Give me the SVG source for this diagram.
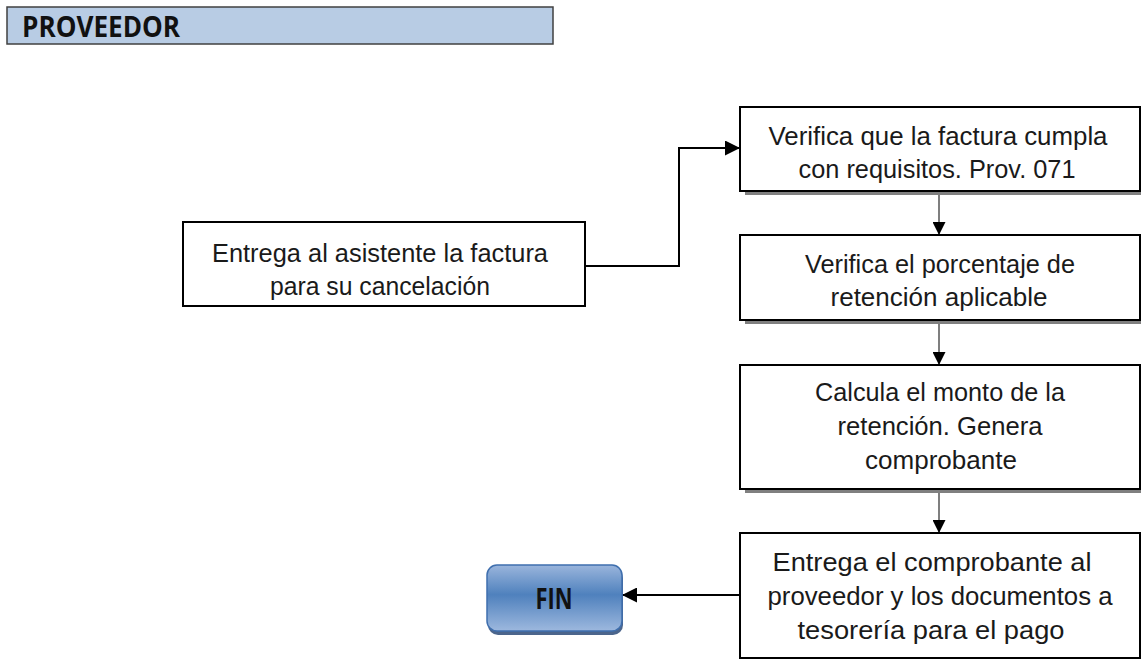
<svg xmlns="http://www.w3.org/2000/svg" width="1141" height="660" viewBox="0 0 1141 660">
<style>
.box{fill:#fff;stroke:#000;stroke-width:2}
.shadow{fill:#808080}
.t{font-family:"Liberation Sans",Arial,sans-serif;font-size:26.5px;fill:#1a1a1a;text-anchor:middle}
.conn{fill:none;stroke:#000;stroke-width:2}
.vconn{fill:none;stroke:#555;stroke-width:1.5}
</style>
<defs>
<linearGradient id="finGrad" x1="0" y1="0" x2="0" y2="1">
<stop offset="0" stop-color="#9ab5dc"/>
<stop offset="0.45" stop-color="#4f81bd"/>
<stop offset="1" stop-color="#9db8de"/>
</linearGradient>
<marker id="ah" markerWidth="15" markerHeight="15" refX="15" refY="7.5" orient="auto" markerUnits="userSpaceOnUse">
<path d="M0,0 L15,7.5 L0,15 Z" fill="#000"/>
</marker>
<marker id="ahs" markerWidth="13" markerHeight="13" refX="13" refY="6.5" orient="auto" markerUnits="userSpaceOnUse">
<path d="M0,0 L13,6.5 L0,13 Z" fill="#000"/>
</marker>
</defs>
<rect width="1141" height="660" fill="#fff"/>

<g id="header">
<rect x="7" y="7" width="546" height="37" fill="#b8cce4" stroke="#404040" stroke-width="1.5"/>
<text x="22" y="37" font-family="'Open Sans','Liberation Sans',sans-serif" font-weight="bold" font-size="29" fill="#111" textLength="158" lengthAdjust="spacingAndGlyphs">PROVEEDOR</text>
</g>

<g id="connectors">
<polyline class="conn" points="585,266 679,266 679,148 740,148" marker-end="url(#ah)"/>
<line class="vconn" x1="939" y1="192" x2="939" y2="235" marker-end="url(#ahs)"/>
<line class="vconn" x1="939" y1="321" x2="939" y2="365" marker-end="url(#ahs)"/>
<line class="vconn" x1="939" y1="490" x2="939" y2="533" marker-end="url(#ahs)"/>
<line class="conn" x1="740" y1="595" x2="622" y2="595" marker-end="url(#ah)"/>
</g>

<g id="n_entrega">
<rect class="box" x="183" y="222" width="402" height="84"/>
<text class="t" x="380" y="262" textLength="336" lengthAdjust="spacingAndGlyphs">Entrega al asistente la factura</text>
<text class="t" x="380" y="295" textLength="220" lengthAdjust="spacingAndGlyphs">para su cancelación</text>
</g>

<g id="n_verifica1">
<rect class="shadow" x="745" y="111" width="400" height="84"/>
<rect class="box" x="740" y="107" width="400" height="84"/>
<text class="t" x="938" y="145" textLength="339" lengthAdjust="spacingAndGlyphs">Verifica que la factura cumpla</text>
<text class="t" x="937" y="178" textLength="277" lengthAdjust="spacingAndGlyphs">con requisitos. Prov. 071</text>
</g>

<g id="n_verifica2">
<rect class="shadow" x="745" y="239" width="400" height="85"/>
<rect class="box" x="740" y="235" width="400" height="85"/>
<text class="t" x="940" y="273" textLength="270" lengthAdjust="spacingAndGlyphs">Verifica el porcentaje de</text>
<text class="t" x="939" y="306" textLength="217" lengthAdjust="spacingAndGlyphs">retención aplicable</text>
</g>

<g id="n_calcula">
<rect class="shadow" x="745" y="369" width="400" height="124"/>
<rect class="box" x="740" y="365" width="400" height="124"/>
<text class="t" x="940" y="401" textLength="250" lengthAdjust="spacingAndGlyphs">Calcula el monto de la</text>
<text class="t" x="940" y="435" textLength="205" lengthAdjust="spacingAndGlyphs">retención. Genera</text>
<text class="t" x="941" y="469" textLength="152" lengthAdjust="spacingAndGlyphs">comprobante</text>
</g>

<g id="n_entrega2">
<rect class="box" x="740" y="533" width="400" height="125"/>
<text class="t" x="932" y="571" textLength="319" lengthAdjust="spacingAndGlyphs">Entrega el comprobante al</text>
<text class="t" x="940" y="605" textLength="345" lengthAdjust="spacingAndGlyphs">proveedor y los documentos a</text>
<text class="t" x="931" y="639" textLength="267" lengthAdjust="spacingAndGlyphs">tesorería para el pago</text>
</g>

<g id="n_fin">
<rect x="488" y="568" width="135" height="67" rx="10" fill="#2c4a78" opacity="0.85"/>
<rect x="487" y="565" width="135" height="66" rx="10" fill="url(#finGrad)" stroke="#3f6fae" stroke-width="1.5"/>
<text x="554" y="609" font-family="'Open Sans','Liberation Sans',sans-serif" font-weight="bold" font-size="29" fill="#111" text-anchor="middle" textLength="37" lengthAdjust="spacingAndGlyphs">FIN</text>
</g>
</svg>
